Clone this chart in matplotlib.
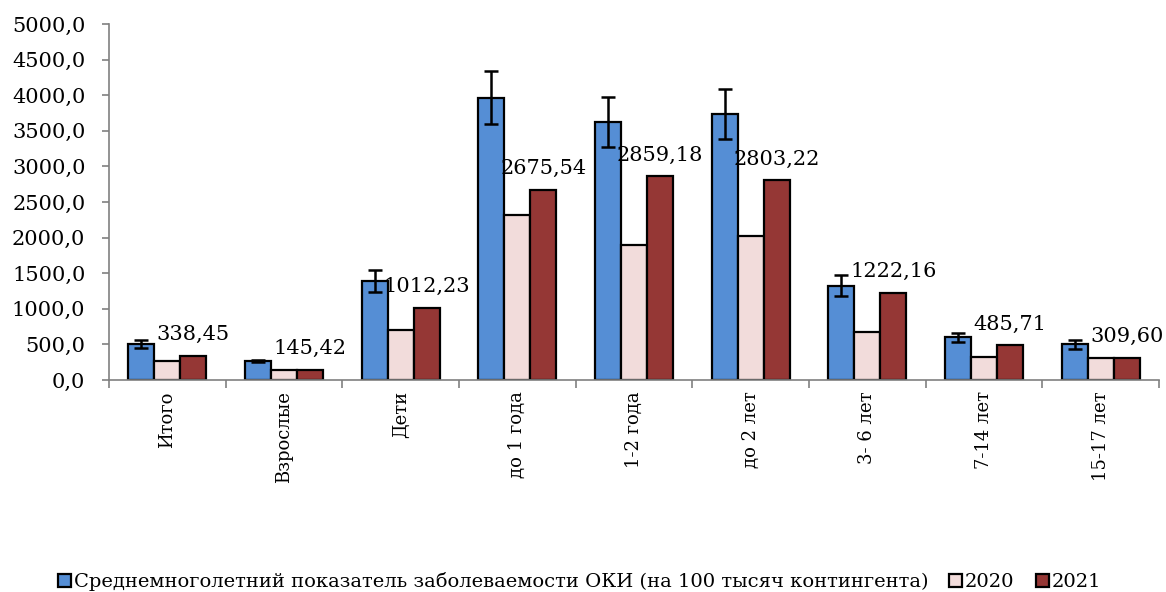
import matplotlib
matplotlib.use("Agg")
import matplotlib.pyplot as plt
import numpy as np
from matplotlib.ticker import FuncFormatter, MultipleLocator, FixedLocator

plt.rcParams['font.family'] = ['DejaVu Serif']

categories = ["Итого", "Взрослые", "Дети", "до 1 года", "1-2 года", "до 2 лет",
              "3- 6 лет", "7-14 лет", "15-17 лет"]
mean_long_term = [503, 267, 1395, 3965, 3624, 3731, 1325, 600, 501]
mean_err = [58, 15, 155, 375, 350, 350, 150, 65, 60]
values_2020 = [267, 136, 702, 2317, 1896, 2022, 674, 323, 305]
values_2021 = [338.45, 145.42, 1012.23, 2675.54, 2859.18, 2803.22, 1222.16, 485.71, 309.60]

series_labels = ["Среднемноголетний показатель заболеваемости ОКИ (на 100 тысяч контингента)",
                 "2020", "2021"]
colors = ["#558ED5", "#F2DCDB", "#953735"]

fig = plt.figure(figsize=(11.66, 5.92), dpi=100)
ax = fig.add_axes([0.0935, 0.358, 0.9005, 0.6015])

x = np.arange(len(categories))
w = 0.223
kw = dict(edgecolor="black", linewidth=1.6, zorder=2)
ax.bar(x - w, mean_long_term, w, color=colors[0], label=series_labels[0],
       yerr=mean_err, error_kw=dict(ecolor="black", elinewidth=1.8, capsize=5, capthick=1.8, zorder=3), **kw)
ax.bar(x, values_2020, w, color=colors[1], label=series_labels[1], **kw)
ax.bar(x + w, values_2021, w, color=colors[2], label=series_labels[2], **kw)

for xi, v in zip(x, values_2021):
    ax.text(xi + w, v + 300, f"{v:.2f}".replace(".", ","), ha="center", va="center",
            fontsize=15, zorder=4)

ax.set_xlim(-0.5, len(categories) - 0.5)
ax.set_ylim(0, 5000)
ax.yaxis.set_major_locator(MultipleLocator(500))
ax.yaxis.set_major_formatter(FuncFormatter(lambda v, p: f"{v:.1f}".replace(".", ",")))
ax.tick_params(axis="y", labelsize=15, length=5, width=1.2, color="#808080", pad=12)

ax.xaxis.set_major_locator(FixedLocator(np.arange(-0.5, len(categories), 1)))
ax.xaxis.set_major_formatter(FuncFormatter(lambda v, p: ""))
ax.xaxis.set_minor_locator(FixedLocator(x))
ax.set_xticklabels(categories, minor=True, rotation=90, fontsize=13)
ax.tick_params(axis="x", which="major", length=6, width=1.2, color="#808080")
ax.tick_params(axis="x", which="minor", length=0, pad=8)

for s in ["top", "right"]:
    ax.spines[s].set_visible(False)
for s in ["left", "bottom"]:
    ax.spines[s].set_color("#808080")
    ax.spines[s].set_linewidth(1.2)

leg = fig.legend(loc="lower center", bbox_to_anchor=(0.497, -0.028), ncol=3, frameon=False,
                 fontsize=14, handlelength=0.65, handleheight=0.65, handletextpad=0.15,
                 columnspacing=1.1)

fig.savefig("out.png", dpi=100)
